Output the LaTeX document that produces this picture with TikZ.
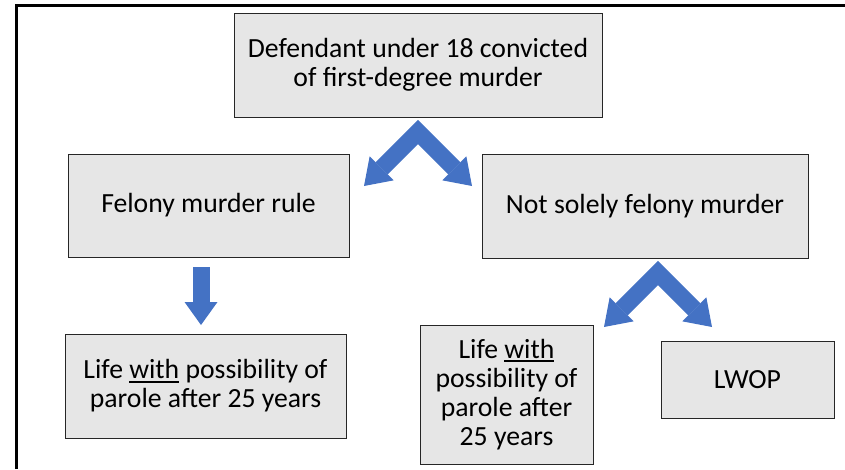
\documentclass[tikz,border=0pt]{standalone}
\usepackage{xcolor}
\usepackage{fontspec}
\setmainfont{Carlito}
\usepackage{tikz}
\usetikzlibrary{arrows.meta}

\definecolor{boxgray}{HTML}{E6E6E6}
\definecolor{arrowblue}{HTML}{4472C4}

\newcommand{\thickul}[1]{\setbox0\hbox{#1}\rlap{\rule[-4pt]{\wd0}{1.8pt}}\box0\relax}

\tikzset{
  box/.style={draw=black!85, line width=0.9pt, fill=boxgray, align=center,
    inner sep=0pt, font=\fontsize{27.7}{29.2}\selectfont},
  blockarrow/.style={draw=arrowblue, line width=17pt, line join=miter},
  bighead/.tip={Triangle[length=25pt, width=34pt, line width=0pt]},
  downhead/.tip={Triangle[length=23pt, width=33pt, line width=0pt]}
}

\begin{document}
\begin{tikzpicture}[x=1pt, y=-1pt]
\useasboundingbox (0,0) rectangle (845,469);
\draw[line width=3pt] (16,469) -- (16,5) -- (845,5);

\node[box, minimum width=368pt, minimum height=104pt] (start) at (418,65)
  {Defendant under 18 convicted\\of first-degree murder};
\node[box, minimum width=281pt, minimum height=103pt] (felony) at (208.5,205.5)
  {Felony murder rule};
\node[box, minimum width=326pt, minimum height=104pt] (notsolely) at (645,206)
  {Not solely felony murder};
\node[box, minimum width=281pt, minimum height=104pt] (lifeleft) at (205.5,386)
  {Life \thickul{with} possibility of\\parole after 25 years};
\node[box, minimum width=173pt, minimum height=139pt] (lifemid) at (506.5,394.5)
  {Life \thickul{with}\\possibility of\\parole after\\25 years};
\node[box, minimum width=173pt, minimum height=77pt] (lwop) at (747.5,379.5)
  {LWOP};

\coordinate (topapex) at (418,132);
\coordinate (topleft) at (364,186);
\coordinate (topright) at (472,186);
\coordinate (downtop) at (201,267);
\coordinate (downtip) at (201,325);
\coordinate (subapex) at (658,273);
\coordinate (subleft) at (604,327);
\coordinate (subright) at (712,327);

\draw[blockarrow, bighead-bighead] (topleft) -- (topapex) -- (topright);
\draw[blockarrow, -downhead] (downtop) -- (downtip);
\draw[blockarrow, bighead-bighead] (subleft) -- (subapex) -- (subright);
\end{tikzpicture}
\end{document}
